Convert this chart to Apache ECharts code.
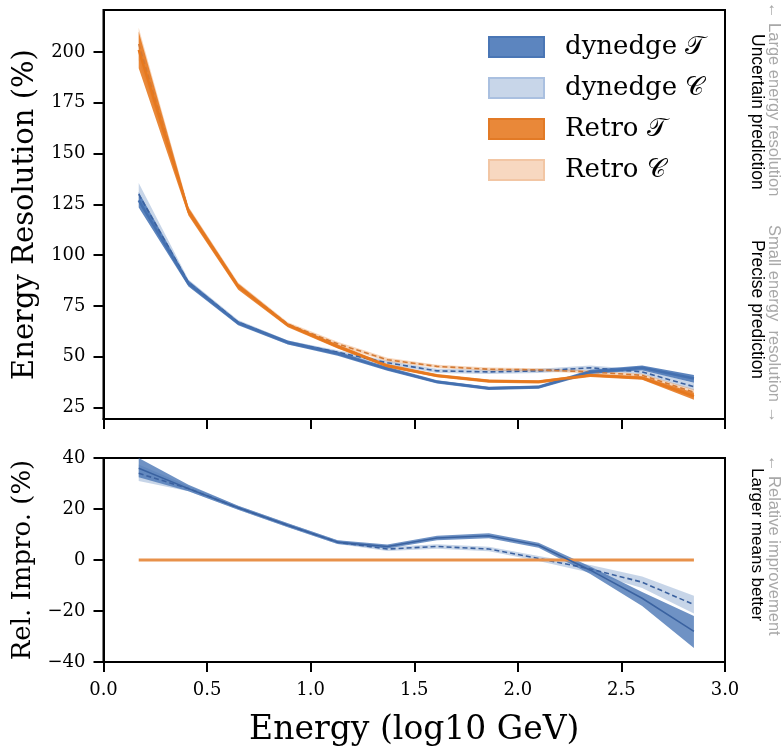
<!DOCTYPE html>
<html>
<head>
<meta charset="utf-8">
<script src="https://cdn.jsdelivr.net/npm/echarts@6/dist/echarts.min.js"></script>
<style>
  html, body { margin: 0; padding: 0; background: #fff; }
  #chart { width: 784px; height: 748px; }
</style>
</head>
<body>
<div id="chart"></div>
<script>
// Energy bin centres (log10 GeV)
const energy = [0.17, 0.41, 0.65, 0.89, 1.13, 1.37, 1.61, 1.86, 2.10, 2.35, 2.60, 2.85];

// Energy resolution (%) — dynedge, track-like (T) and cascade-like (C)
const dynedgeT     = [127, 86, 66.5, 57, 51.5, 44, 37.6, 34.4, 35, 42.5, 44.5, 39.2];
const dynedgeTLow  = [123.5, 84.5, 65.5, 56, 50.5, 43, 36.8, 33.6, 34.2, 41.5, 43.3, 37.2];
const dynedgeTHigh = [131, 87.5, 67.5, 58, 52.5, 45, 38.4, 35.2, 35.8, 43.5, 45.7, 41];
const dynedgeC     = [130, 86.5, 67, 57, 52.2, 47, 43, 42.5, 43, 44.5, 42.5, 35.2];
const dynedgeCLow  = [126, 85, 66, 56, 51.2, 46, 42, 41.5, 42, 43.3, 41.3, 33.5];
const dynedgeCHigh = [135.5, 88, 68, 58, 53.2, 48, 44, 43.5, 44, 45.7, 43.7, 37];

// Energy resolution (%) — Retro
const retroT     = [201, 121.5, 84.5, 65.5, 55, 45.5, 40.6, 38, 37.6, 40.8, 39.5, 30.5];
const retroTLow  = [192, 119.5, 83, 64.5, 54, 44.6, 39.8, 37.2, 36.8, 40, 38.6, 28.8];
const retroTHigh = [210, 123.5, 86, 66.5, 56, 46.4, 41.4, 38.8, 38.4, 41.6, 40.4, 32.2];
const retroC     = [204, 122, 85, 66, 56.3, 48.5, 45.2, 43.8, 43.5, 42.5, 40.8, 32.5];
const retroCLow  = [196, 120, 83.5, 65, 55.3, 47.6, 44.4, 43, 42.7, 41.7, 40, 31];
const retroCHigh = [212, 124, 86.5, 67, 57.3, 49.4, 46, 44.6, 44.3, 43.3, 41.6, 34];

// Relative improvement (%) of dynedge over Retro
const relT     = [36, 28, 20.5, 13.6, 7, 5.3, 8.6, 9.5, 5.8, -4, -15, -28];
const relTLow  = [32.5, 27, 19.7, 12.8, 6.3, 4.5, 7.7, 8.5, 4.8, -5.5, -18, -34.5];
const relTHigh = [40, 29.5, 21.3, 14.4, 7.7, 6.1, 9.5, 10.5, 6.8, -2.5, -12.5, -22];
const relC     = [34, 28, 20.5, 13.6, 7, 4.3, 5.3, 4.3, 0.6, -3.5, -8.7, -17.5];
const relCLow  = [31, 27, 19.7, 12.8, 6.3, 3.5, 4.4, 3.4, -0.4, -5, -11, -21];
const relCHigh = [37.5, 29, 21.3, 14.4, 7.7, 5.1, 6.2, 5.2, 1.6, -2, -6.5, -14];
const relRetro = [0, 0, 0, 0, 0, 0, 0, 0, 0, 0, 0, 0];

// Axis ticks
const xTicks = [0, 0.5, 1, 1.5, 2, 2.5, 3];
const resTicks = [25, 50, 75, 100, 125, 150, 175, 200];
const relTicks = [-40, -20, 0, 20, 40];

const SERIF = '"DejaVu Serif", serif';
const SANS = '"Liberation Sans", Arial, sans-serif';

const BLUE_T_FILL = 'rgba(70,115,180,0.88)';
const BLUE_C_FILL = 'rgba(70,115,180,0.30)';
const ORANGE_T_FILL = 'rgba(230,120,30,0.88)';
const ORANGE_C_FILL = 'rgba(230,120,30,0.30)';

const pairs = (ys) => energy.map((x, i) => [x, ys[i]]);

// Shaded uncertainty band, drawn as one polygon through the axis scales
function band(name, low, high, fill, axis, z) {
  return {
    type: 'custom',
    name: name,
    xAxisIndex: axis, yAxisIndex: axis,
    silent: true,
    z: z,
    data: pairs(high),
    renderItem: function (params, api) {
      if (params.dataIndex !== 0) return null;
      const pts = [];
      for (let i = 0; i < energy.length; i++) pts.push(api.coord([energy[i], high[i]]));
      for (let i = energy.length - 1; i >= 0; i--) pts.push(api.coord([energy[i], low[i]]));
      return { type: 'polygon', shape: { points: pts }, style: { fill: fill, stroke: null } };
    }
  };
}

function line(name, ys, color, width, dashed, axis, z) {
  return {
    type: 'line',
    name: name,
    xAxisIndex: axis, yAxisIndex: axis,
    data: pairs(ys),
    showSymbol: false,
    silent: true,
    z: z,
    lineStyle: { color: color, width: width, type: dashed ? [5, 3] : 'solid' },
    itemStyle: { color: color }
  };
}

const N_DT = 'dynedge 𝒯', N_DC = 'dynedge 𝒞', N_RT = 'Retro 𝒯', N_RC = 'Retro 𝒞';

const series = [
  // resolution panel
  band(N_DC, dynedgeCLow, dynedgeCHigh, BLUE_C_FILL, 0, 1),
  band(N_RC, retroCLow, retroCHigh, ORANGE_C_FILL, 0, 1),
  band(N_DT, dynedgeTLow, dynedgeTHigh, BLUE_T_FILL, 0, 2),
  band(N_RT, retroTLow, retroTHigh, ORANGE_T_FILL, 0, 2),
  line(N_DC, dynedgeC, '#3b619f', 1.6, true, 0, 3),
  line(N_RC, retroC, '#d27a36', 1.6, true, 0, 3),
  line(N_DT, dynedgeT, '#4470b0', 2.5, false, 0, 4),
  line(N_RT, retroT, '#e6781e', 2.5, false, 0, 4),
  // relative improvement panel
  band(N_DC, relCLow, relCHigh, BLUE_C_FILL, 1, 1),
  band(N_DT, relTLow, relTHigh, 'rgba(70,115,180,0.78)', 1, 2),
  line(N_DC, relC, '#3b619f', 1.6, true, 1, 3),
  line(N_DT, relT, '#3a62a0', 1.5, false, 1, 4),
  line(N_RT, relRetro, '#e8914a', 3, false, 1, 3)
];

const tickLabelStyle = { color: '#000', fontFamily: SERIF, fontSize: 18 };

function sideText(text, x, y, color, size) {
  return {
    type: 'text', x: x, y: y, rotation: -Math.PI / 2, silent: true,
    style: { text: text, fill: color, font: size + 'px ' + SANS, textAlign: 'left', textVerticalAlign: 'middle' }
  };
}

const option = {
  animation: false,
  backgroundColor: '#fff',
  grid: [
    { left: 103.5, top: 10, width: 621.5, height: 409, show: true, borderColor: '#000', borderWidth: 2, backgroundColor: 'transparent' },
    { left: 103.5, top: 458, width: 621.5, height: 205, show: true, borderColor: '#000', borderWidth: 2, backgroundColor: 'transparent' }
  ],
  xAxis: [
    {
      gridIndex: 0, type: 'value', min: 0, max: 3, interval: 0.5,
      axisLine: { show: true, onZero: false, lineStyle: { color: '#000', width: 2 } },
      axisTick: { show: true, inside: false, length: 10, lineStyle: { color: '#000', width: 2 } },
      axisLabel: { show: false },
      splitLine: { show: false }
    },
    {
      gridIndex: 1, type: 'value', min: 0, max: 3, interval: 0.5,
      axisLine: { show: true, onZero: false, lineStyle: { color: '#000', width: 2 } },
      axisTick: { show: true, inside: false, length: 10, lineStyle: { color: '#000', width: 2 } },
      axisLabel: Object.assign({ margin: 19, formatter: (v) => v.toFixed(1) }, tickLabelStyle),
      splitLine: { show: false },
      name: 'Energy (log10 GeV)', nameLocation: 'middle', nameGap: 52,
      nameTextStyle: { color: '#000', fontFamily: SERIF, fontSize: 33 }
    }
  ],
  yAxis: [
    {
      gridIndex: 0, type: 'value', min: 19.3, max: 220.7,
      axisLine: { show: true, onZero: false, lineStyle: { color: '#000', width: 2 } },
      axisTick: { show: true, inside: false, length: 10, customValues: resTicks, lineStyle: { color: '#000', width: 2 } },
      axisLabel: Object.assign({ margin: 18, customValues: resTicks }, tickLabelStyle),
      splitLine: { show: false },
      name: 'Energy Resolution (%)', nameLocation: 'middle', nameGap: 56, nameRotate: 90,
      nameTextStyle: { color: '#000', fontFamily: SERIF, fontSize: 29 }
    },
    {
      gridIndex: 1, type: 'value', min: -40, max: 40, interval: 20,
      axisLine: { show: true, onZero: false, lineStyle: { color: '#000', width: 2 } },
      axisTick: { show: true, inside: false, length: 10, lineStyle: { color: '#000', width: 2 } },
      axisLabel: Object.assign({ margin: 18, customValues: relTicks, formatter: (v) => (v < 0 ? '\u2212' + Math.abs(v) : String(v)) }, tickLabelStyle),
      splitLine: { show: false },
      name: 'Rel. Impro. (%)', nameLocation: 'middle', nameGap: 57, nameRotate: 90,
      nameTextStyle: { color: '#000', fontFamily: SERIF, fontSize: 26 }
    }
  ],
  legend: {
    left: 483, top: 29, orient: 'vertical',
    itemWidth: 55, itemHeight: 20, itemGap: 15,
    selectedMode: false,
    textStyle: { color: '#000', fontFamily: SERIF, fontSize: 26, lineHeight: 20, padding: [0, 0, 0, 16] },
    data: [
      { name: N_DT, icon: 'rect', itemStyle: { color: 'rgb(92,133,191)', borderColor: 'rgb(74,118,181)', borderWidth: 2 } },
      { name: N_DC, icon: 'rect', itemStyle: { color: 'rgb(200,214,233)', borderColor: 'rgb(170,192,224)', borderWidth: 2 } },
      { name: N_RT, icon: 'rect', itemStyle: { color: 'rgb(233,136,57)', borderColor: 'rgb(226,122,38)', borderWidth: 2 } },
      { name: N_RC, icon: 'rect', itemStyle: { color: 'rgb(247,216,192)', borderColor: 'rgb(242,198,164)', borderWidth: 2 } }
    ]
  },
  graphic: [
    sideText('\u2190 Large energy resolution', 774, 2, '#a8a8a8', 16.5),
    sideText('Uncertain prediction', 757, 34, '#000', 17.5),
    sideText('Small energy  resolution \u2192', 774, 225, '#a8a8a8', 16.5),
    sideText('Precise prediction', 757, 240, '#000', 17.5),
    sideText('\u2190 Relative improvement', 774, 455, '#a8a8a8', 16.5),
    sideText('Larger means better', 757, 468, '#000', 17)
  ],
  series: series
};

const chart = echarts.init(document.getElementById('chart'), null, { renderer: 'canvas' });
chart.setOption(option);
</script>
</body>
</html>
